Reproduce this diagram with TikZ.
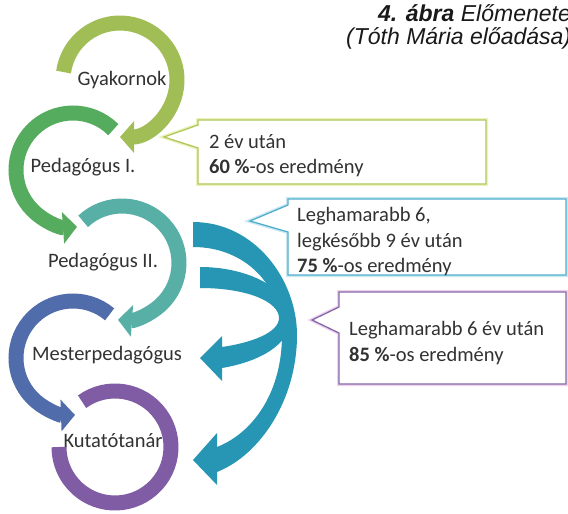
\documentclass[tikz,border=0pt]{standalone}
\usepackage{fontspec}
\setmainfont{Carlito}
\newfontfamily\arialf{Liberation Sans}
\usetikzlibrary{arrows.meta}
\definecolor{cGya}{RGB}{160,190,85}
\definecolor{cPedA}{RGB}{85,172,95}
\definecolor{cPedB}{RGB}{88,175,165}
\definecolor{cMes}{RGB}{80,108,170}
\definecolor{cKut}{RGB}{128,92,165}
\definecolor{cTeal}{RGB}{38,150,180}
\definecolor{cBoxA}{RGB}{175,200,90}
\definecolor{cBoxAglow}{RGB}{238,242,190}
\definecolor{cBoxB}{RGB}{80,175,205}
\definecolor{cBoxBglow}{RGB}{200,232,242}
\definecolor{cBoxC}{RGB}{130,105,170}
\definecolor{cBoxCglow}{RGB}{242,210,235}
\definecolor{txt}{RGB}{50,50,50}
\begin{document}
\begin{tikzpicture}[x=1pt,y=1pt,
  ring/.style={line width=15pt},
  ringarrow/.style={ring,-{Triangle[width=31pt,length=14pt]}},
  lbl/.style={font=\fontsize{20.5}{24}\selectfont, text=txt, inner sep=0pt, anchor=base},
  boxtxt/.style={font=\fontsize{20.5}{24}\selectfont, text=txt, inner sep=0pt, anchor=base west},
  callout/.style={fill=white, line width=1.3pt, line join=miter},
  glow/.style={line width=4pt, line join=miter},
  ttl/.style={font=\arialf\itshape\fontsize{23}{26}\selectfont, text={rgb,255:red,25;green,25;blue,25}, inner sep=0pt, anchor=base west},
]
\useasboundingbox (0,0) rectangle (568,-514);
\clip (0,0) rectangle (568,-514);
\fill[white] (0,0) rectangle (568,-514);

% title (cut off by the right edge, as in the reference)
\node[ttl] (title1) at (378,-21) {\textbf{4. ábra} Előmenete};
\node[ttl] (title2) at (346,-45) {(Tóth Mária előadása)};

% rings
\draw[ringarrow, cGya] (120,-80) ++(172:57) arc[start angle=172, end angle=-90, radius=57];
\draw[ringarrow, cPedA] (73,-170) ++(45:57) arc[start angle=45, end angle=274, radius=57];
\draw[ringarrow, cPedB] (122,-263) ++(133:57) arc[start angle=133, end angle=-94, radius=57];
\draw[ringarrow, cMes] (73,-358) ++(50:57) arc[start angle=50, end angle=272, radius=57];
\draw[ring, cKut] (115,-447) ++(126:56) arc[start angle=126, end angle=-180, radius=56];

% big teal arrows
\fill[cTeal] (200,-267) .. controls (250,-267) and (291,-290) .. (291,-318)
  .. controls (291,-345) and (258,-362) .. (222,-368) -- (222,-381) -- (200,-358)
  -- (222,-336) -- (222,-347) .. controls (250,-343) and (279,-333) .. (279,-318)
  .. controls (279,-302) and (248,-288) .. (200,-288) -- cycle;
\fill[cTeal] (193,-222) .. controls (255,-222) and (297,-280) .. (297,-335)
  .. controls (297,-400) and (260,-455) .. (217,-472) -- (217,-485) -- (193,-460)
  -- (217,-433) -- (217,-447) .. controls (255,-432) and (282,-390) .. (282,-335)
  .. controls (282,-285) and (245,-247) .. (193,-247) -- cycle;

% labels
\node[lbl] (gya) at (122,-85) {Gyakornok};
\node[lbl] (peda) at (83,-172) {Pedagógus I.};
\node[lbl] (pedb) at (103,-267) {Pedagógus II.};
\node[lbl] (mes) at (107,-360) {Mesterpedagógus};
\node[lbl] (kut) at (113,-447) {Kutatótanár};

% callouts
\draw[glow, cBoxAglow] (198,-120) -- (486,-120) -- (486,-184) -- (198,-184) -- (198,-148) -- (164,-137) -- (198,-125) -- cycle;
\draw[callout, draw=cBoxA] (198,-120) -- (486,-120) -- (486,-184) -- (198,-184) -- (198,-148) -- (164,-137) -- (198,-125) -- cycle;
\node[boxtxt] (boxAa) at (209,-148) {2 év után};
\node[boxtxt] (boxAb) at (209,-173) {\textbf{60 \%}-os eredmény};

\draw[glow, cBoxBglow] (288,-199) -- (566,-199) -- (566,-275) -- (288,-275) -- (288,-232) -- (250,-221) -- (288,-205) -- cycle;
\draw[callout, draw=cBoxB] (288,-199) -- (566,-199) -- (566,-275) -- (288,-275) -- (288,-232) -- (250,-221) -- (288,-205) -- cycle;
\node[boxtxt] (boxBa) at (297,-221) {Leghamarabb 6,};
\node[boxtxt] (boxBb) at (297,-247) {legkésőbb 9 év után};
\node[boxtxt] (boxBc) at (297,-272) {\textbf{75 \%}-os eredmény};

\draw[glow, cBoxCglow] (339,-292) -- (566,-292) -- (566,-384) -- (339,-384) -- (339,-333) -- (312,-320) -- (339,-307) -- cycle;
\draw[callout, draw=cBoxC] (339,-292) -- (566,-292) -- (566,-384) -- (339,-384) -- (339,-333) -- (312,-320) -- (339,-307) -- cycle;
\node[boxtxt] (boxCa) at (349,-335) {Leghamarabb 6 év után};
\node[boxtxt] (boxCb) at (349,-361) {\textbf{85 \%}-os eredmény};
\end{tikzpicture}
\end{document}
